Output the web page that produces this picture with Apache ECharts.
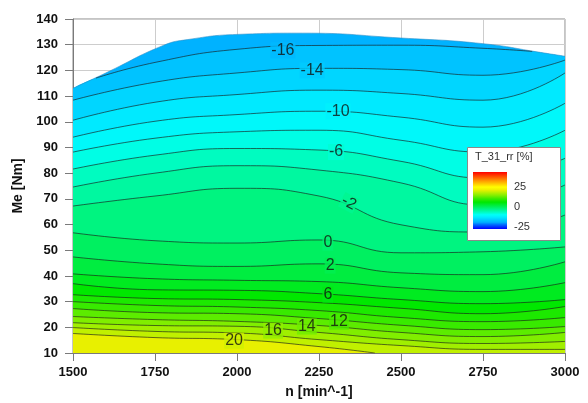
<!DOCTYPE html>
<html><head><meta charset="utf-8">
<script src="https://cdn.jsdelivr.net/npm/echarts@6/dist/echarts.min.js"></script>
<style>html,body{margin:0;padding:0;background:#fff}#c{width:588px;height:403px}</style>
</head><body><div id="c"></div>
<script>
// axis ticks
const speedTicks = [1500, 1750, 2000, 2250, 2500, 2750, 3000];
const torqueTicks = [10, 20, 30, 40, 50, 60, 70, 80, 90, 100, 110, 120, 130, 140];
// upper edge of the measured region [n, Me]
const boundary = [[1500,113],[1600,119],[1775,129.7],[1850,132],[2000,134],[2200,134.5],[2500,132.6],[2750,130.4],[2925,127],[3000,125.5]];
// contour lines of T_31_rr [%] as [n, Me]
const cM16 = [[1570,117.0],[1750,123.1],[2000,128.2],[2250,129.7],[2500,129.8],[2750,128.6],[2900,127.4]];
const cM14 = [[1500,108.4],[1750,115.4],[2000,119.0],[2250,120.8],[2500,120.3],[2750,118.1],[3000,124.0]];
const cM12 = [[1500,100.6],[1750,107.6],[2000,110.6],[2250,112.3],[2500,111.0],[2750,108.4],[3000,119.0]];
const cM10 = [[1500,94.0],[1750,100.2],[2000,102.8],[2250,104.1],[2500,101.8],[2750,97.9],[3000,107.2]];
const cM8  = [[1500,88.2],[1750,93.6],[2000,96.1],[2250,96.7],[2500,92.8],[2750,88.2],[3000,96.7]];
const cM6  = [[1500,81.6],[1750,87.0],[2000,89.6],[2250,89.0],[2500,84.6],[2750,78.1],[3000,85.8]];
const cM4  = [[1500,74.6],[1750,80.0],[2000,82.9],[2250,81.2],[2500,76.2],[2750,67.6],[3000,75.4]];
const cM2  = [[1500,67.2],[1750,71.1],[2000,74.1],[2250,71.1],[2500,59.9],[2750,57.1],[3000,63.7]];
const c0   = [[1500,56.8],[1750,53.7],[2000,52.8],[2250,54.0],[2500,49.0],[2750,49.4],[3000,51.3]];
const c2   = [[1500,47.4],[1750,44.7],[2000,43.7],[2250,44.7],[2500,41.2],[2750,40.5],[3000,45.5]];
const c4   = [[1500,40.8],[1750,38.9],[2000,38.3],[2250,37.8],[2500,35.4],[2750,33.9],[3000,37.4]];
const c6   = [[1500,37.0],[1750,34.6],[2000,34.4],[2250,33.1],[2500,30.8],[2750,29.2],[3000,30.8]];
const c8   = [[1500,32.7],[1750,31.2],[2000,30.8],[2250,29.6],[2500,27.4],[2750,25.3],[3000,28.1]];
const c10  = [[1500,30.0],[1750,28.5],[2000,27.9],[2250,26.5],[2500,23.8],[2750,22.2],[3000,23.8]];
const c12  = [[1500,27.3],[1750,25.7],[2000,25.3],[2250,23.4],[2500,20.8],[2750,19.1],[3000,20.3]];
const c14  = [[1500,24.2],[1750,23.0],[2000,22.3],[2250,20.7],[2500,18.0],[2750,16.4],[3000,18.0]];
const c16  = [[1500,21.8],[1750,20.7],[2000,20.4],[2250,18.0],[2500,15.2],[2750,13.7],[3000,14.5]];
const c18  = [[1500,19.9],[1750,18.4],[2000,17.8],[2250,15.2],[2500,12.9],[2750,11.4],[3000,11.4]];
const c20  = [[1500,17.6],[1750,16.0],[2000,15.2],[2250,12.5],[2420,10.0]];
const contourLevels = [-16,-14,-12,-10,-8,-6,-4,-2,0,2,4,6,8,10,12,14,16,18,20];
const contourLines  = [cM16,cM14,cM12,cM10,cM8,cM6,cM4,cM2,c0,c2,c4,c6,c8,c10,c12,c14,c16,c18,c20];
// contour labels [n, Me, text]
const contourLabels = [[2140,127.8,'-16'],[2229,120.0,'-14'],[2308,104.1,'-10'],[2302,88.2,'-6'],[2341,68.4,'-2'],[2277,52.9,'0'],[2284,44.0,'2'],[2277,32.7,'6'],[2311,22.2,'12'],[2213,20.3,'14'],[2110,18.7,'16'],[1991,14.8,'20']];
// colour legend
const legendTitle = 'T_31_rr [%]';
const legendTicks = [25, 0, -25];
const legendMin = -25, legendMax = 43;

// colour map
const stops = [[-25,'#0000ff'],[-20,'#0068ff'],[-17,'#00b0ff'],[-14,'#00ccff'],[-11,'#00eaff'],[-8,'#00fff8'],[-5,'#00fcc0'],[-2,'#00f690'],[1,'#00f060'],[4,'#00ec30'],[7,'#00e800'],[11,'#38ea00'],[15,'#80ee00'],[19,'#c0f000'],[22,'#f0f000'],[25,'#ffff00'],[32,'#ffa000'],[43,'#ff0000']];
function hex2rgb(h){return [parseInt(h.substr(1,2),16),parseInt(h.substr(3,2),16),parseInt(h.substr(5,2),16)];}
function colorAt(v){
  if(v<=stops[0][0]) return stops[0][1];
  for(let i=1;i<stops.length;i++){
    if(v<=stops[i][0]){
      const a=hex2rgb(stops[i-1][1]), b=hex2rgb(stops[i][1]);
      const t=(v-stops[i-1][0])/(stops[i][0]-stops[i-1][0]);
      return 'rgb('+a.map((x,k)=>Math.round(x+(b[k]-x)*t)).join(',')+')';
    }
  }
  return stops[stops.length-1][1];
}

const FONT = "'Liberation Sans', Arial, sans-serif";
const series = [];
series.push({type:'line', data: boundary, smooth: true, symbol:'none', silent:true,
  lineStyle:{width:0.6,color:'#2f8fc8'}, areaStyle:{color: colorAt(-16.8), opacity:1, origin:'start'}, z:1});
contourLevels.forEach((lvl,i)=>{
  const pts = contourLines[i];
  let area = pts;
  if (pts[0][0] > 1500 && pts[0][1] > 50) {
    const a = pts[0][0], b = pts[pts.length-1][0];
    area = boundary.filter(p=>p[0]<a).concat(pts, boundary.filter(p=>p[0]>b));
  }
  series.push({type:'line', data: area, smooth:true, symbol:'none', silent:true,
    lineStyle:{width:0}, areaStyle:{color: colorAt(lvl === 20 ? 21.5 : lvl+1), opacity:1, origin:'start'}, z:1});
});
contourLevels.forEach((lvl,i)=>{
  series.push({type:'line', data: contourLines[i], smooth:true, symbol:'none', silent:true,
    lineStyle:{width:0.8,color:'rgba(25,25,25,0.8)'}, z:3});
});
series.push({type:'scatter', symbolSize:0, silent:true, z:5,
  data: contourLabels.map(d=>({value:[d[0],d[1]], label:{formatter:d[2], backgroundColor: colorAt(parseFloat(d[2])), rotate: d[2]==='-2'? -28 : 0}})),
  label:{show:true, position:'inside', fontFamily:FONT, fontSize:16, color:'#111', padding:[0,1,0,1]}
});

const chart = echarts.init(document.getElementById('c'), null, {renderer:'canvas'});
const axisLabelStyle = {fontFamily:FONT, fontWeight:'bold', fontSize:13, color:'#111'};
const gradStops = stops.map(s=>({offset:(legendMax-s[0])/(legendMax-legendMin), color:s[1]})).reverse();
const legendGradient = {type:'linear', x:0, y:0, x2:0, y2:1, colorStops: gradStops};
chart.setOption({
  animation:false,
  backgroundColor:'#fff',
  grid:{left:73, right:23, top:19, bottom:50, show:true, borderColor:'#8a8a8a', borderWidth:1, outerBoundsMode:'none', containLabel:false},
  xAxis:{type:'value', min:speedTicks[0], max:speedTicks[speedTicks.length-1], interval:250,
    name:'n [min^-1]', nameLocation:'middle', nameGap:32,
    nameTextStyle:{fontFamily:FONT, fontWeight:'bold', fontSize:14, color:'#111'},
    axisLine:{show:true, lineStyle:{color:'#7a7a7a'}}, axisTick:{show:true, length:8, lineStyle:{color:'#7a7a7a'}},
    axisLabel:Object.assign({margin:13, formatter:v=>speedTicks.includes(v)?String(v):''}, axisLabelStyle),
    splitLine:{show:true, lineStyle:{color:'#cdcdcd'}}},
  yAxis:{type:'value', min:torqueTicks[0], max:torqueTicks[torqueTicks.length-1], interval:10,
    name:'Me [Nm]', nameLocation:'middle', nameGap:37, nameRotate:90,
    nameTextStyle:{fontFamily:FONT, fontWeight:'bold', fontSize:14, color:'#111'},
    axisLine:{show:true, lineStyle:{color:'#7a7a7a'}}, axisTick:{show:true, length:8, lineStyle:{color:'#7a7a7a'}},
    axisLabel:Object.assign({margin:15, formatter:v=>torqueTicks.includes(v)?String(v):''}, axisLabelStyle),
    splitLine:{show:true, lineStyle:{color:'#cdcdcd'}}},
  series: series,
  graphic:{elements:[
    {type:'rect', z:100, shape:{x:467.5,y:147.5,width:93,height:93}, style:{fill:'#fff', stroke:'#8a8a8a', lineWidth:1}},
    {type:'text', z:101, x:475, y:157, style:{text:legendTitle, fontFamily:FONT, fontSize:11, fill:'#333', verticalAlign:'middle'}},
    {type:'rect', z:101, shape:{x:473,y:172,width:34,height:57}, style:{fill:legendGradient}},
    {type:'text', z:101, x:514, y:187, style:{text:String(legendTicks[0]), fontFamily:FONT, fontSize:11, fill:'#333', verticalAlign:'middle'}},
    {type:'text', z:101, x:514, y:207, style:{text:String(legendTicks[1]), fontFamily:FONT, fontSize:11, fill:'#333', verticalAlign:'middle'}},
    {type:'text', z:101, x:514, y:227, style:{text:String(legendTicks[2]), fontFamily:FONT, fontSize:11, fill:'#333', verticalAlign:'middle'}}
  ]}
});
</script></body></html>
